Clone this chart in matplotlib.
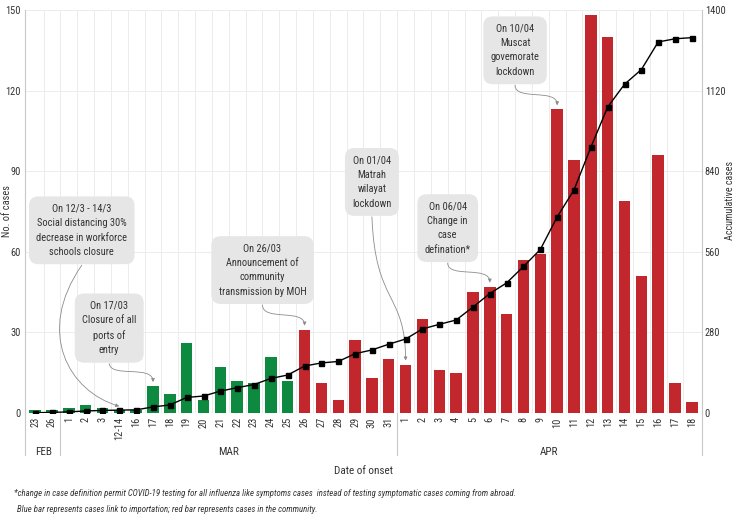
import numpy as np
import matplotlib.pyplot as plt
from matplotlib.path import Path
from matplotlib.patches import FancyArrowPatch
import matplotlib.transforms as mtrans
from matplotlib import font_manager as fm

# the reference uses a condensed face; take one if it is installed
fonts = fm.fontManager.ttflist
names = {f.name for f in fonts}
family, condensed = None, False
for cand in ['Liberation Sans Narrow', 'Roboto Condensed', 'Noto Sans Condensed',
             'Open Sans Condensed', 'DejaVu Sans Condensed']:
    if cand in names:
        family, condensed = cand, True
        break
if family is None:
    for f in fonts:
        if f.name in ('DejaVu Sans', 'Noto Sans', 'Open Sans', 'Roboto') and \
                f.stretch in ('condensed', 'semi-condensed', 'extra-condensed'):
            family, condensed = f.name, True
            plt.rcParams['font.stretch'] = f.stretch
            break
if family is None:
    family = 'Roboto' if 'Roboto' in names else 'DejaVu Sans'
plt.rcParams['font.family'] = [family, 'DejaVu Sans']

fs = 7.5 if condensed else 6.6     # box / tick text
fs_note = 6.3 if condensed else 5.9

# date of onset labels (Feb 23 .. Apr 18)
dates = ['23', '26',
         '1', '2', '3', '12-14', '16', '17', '18', '19', '20', '21', '22', '23',
         '24', '25', '26', '27', '28', '29', '30', '31',
         '1', '2', '3', '4', '5', '6', '7', '8', '9', '10', '11', '12', '13',
         '14', '15', '16', '17', '18']
months = ['FEB', 'MAR', 'APR']
month_first = [0, 2, 22]
month_last = [1, 21, 39]

daily_cases = [1, 1, 2, 3, 2, 1, 1, 10, 7, 26, 5, 17, 12, 11, 21, 12,
               31, 11, 5, 27, 13, 20, 18, 35, 16, 15, 45, 47, 37, 57, 59,
               113, 94, 148, 140, 79, 51, 96, 11, 4]
cumulative_cases = [1, 2, 4, 7, 9, 10, 11, 21, 28, 54, 59, 76, 88, 99, 120,
                    132, 163, 174, 179, 206, 219, 239, 257, 292, 308, 323,
                    368, 415, 452, 509, 568, 681, 775, 923, 1063, 1142, 1193,
                    1289, 1300, 1304]
n_imported = 16  # bars before 26/03 are importation linked

green = '#0e8a40'
red = '#c1272d'
txt = '#333333'
grid_c = '#ececec'
line_c = '#c8c8c8'

# annotation text, box centre, ctrl1, ctrl2, arrow end (data units)
notes = [
    ("On 12/3 - 14/3\nSocial distancing 30%\ndecrease in workforce\nschools closure",
     (2.1, 68), [(0.0, 30), (2.0, 8), (5, 2.5)]),
    ("On 17/03\nClosure of all\nports of\nentry",
     (4.4, 31.6), [(4.5, 13), (7, 18), (7, 11.5)]),
    ("On 26/03\nAnnouncement of\ncommunity\ntransmission by MOH",
     (13.5, 53.2), [(13.5, 34), (16, 39), (16, 32.5)]),
    ("On 01/04\nMatrah\nwilayat\nlockdown",
     (20.0, 86), [(20.2, 40), (22, 45), (22, 19.5)]),
    ("On 06/04\nChange in\ncase\ndefination*",
     (24.5, 68.8), [(24.5, 50), (27, 55), (27, 48.5)]),
    ("On 10/04\nMuscat\ngovemorate\nlockdown",
     (28.5, 135), [(28.5, 116), (31, 121), (31, 114.5)]),
]

fig = plt.figure(figsize=(7.35, 5.19), dpi=100)
ax = fig.add_axes([25/735, 1-413/519, (702-25)/735, (413-10)/519])

x = np.arange(len(dates))
colors = [green if i < n_imported else red for i in range(len(dates))]

ax.set_xlim(-0.6, len(dates) - 0.4)
ax.set_ylim(0, 150)
ax.set_yticks([0, 30, 60, 90, 120, 150])
ax.yaxis.grid(True, color=grid_c, lw=0.7, zorder=0)
for b in np.arange(0.5, len(dates) - 1, 1.0):
    ax.axvline(b, color=grid_c, lw=0.7, zorder=0)
ax.axhline(0, color=line_c, lw=0.8, zorder=1)
ax.set_axisbelow(True)

ax.bar(x, daily_cases, width=0.68, color=colors, zorder=2)

ax.set_xticks(x)
ax.set_xticklabels(dates, rotation=90, fontsize=fs, color=txt)
ax.tick_params(axis='both', length=0, labelsize=fs, labelcolor=txt)
ax.tick_params(axis='x', pad=3)
ax.tick_params(axis='y', pad=3)
for s in ['top', 'bottom']:
    ax.spines[s].set_visible(False)
ax.spines['left'].set_color(line_c)
ax.spines['right'].set_color(line_c)

# month group separators and labels
blend = mtrans.blended_transform_factory(ax.transData, ax.transAxes)
for b in [-0.6, 1.5, 21.5, len(dates) - 0.4]:
    ax.plot([b, b], [0, -0.104], transform=blend, color=line_c, lw=0.8,
            clip_on=False)
for m, a, b in zip(months, month_first, month_last):
    ax.text((a + b) / 2, -0.097, m, transform=blend, ha='center', va='center',
            fontsize=fs + 0.5, color=txt)

ax2 = ax.twinx()
ax2.set_ylim(0, 1400)
ax2.set_yticks([0, 280, 560, 840, 1120, 1400])
ax2.tick_params(axis='y', length=0, labelsize=fs, labelcolor=txt, pad=2)
for s in ax2.spines.values():
    s.set_visible(False)
ax2.plot(x, cumulative_cases, color='black', lw=1, marker='s', ms=3.6, zorder=5)

# call-out boxes
boxes = []
for text, (bx, by), pts in notes:
    t = ax.text(bx, by, text, ha='center', va='center', fontsize=fs,
                color=txt, linespacing=1.55, zorder=6,
                bbox=dict(boxstyle='round,pad=0.7,rounding_size=0.9',
                          fc='#e6e6e6', ec='none'))
    boxes.append(t)

fig.canvas.draw()
inv = ax.transData.inverted()
# keep first box clear of the left tick labels
bb = boxes[0].get_bbox_patch().get_window_extent()
if bb.x0 < 29:
    bx, by = boxes[0].get_position()
    px, py = ax.transData.transform((bx, by))
    boxes[0].set_position(inv.transform((px + 29 - bb.x0, py)))
    fig.canvas.draw()

# curved arrows from the bottom of each box
for t, (text, _, pts) in zip(boxes, notes):
    bb = t.get_bbox_patch().get_window_extent()
    start = inv.transform(((bb.x0 + bb.x1) / 2, bb.y0 - 1))
    path = Path([tuple(start)] + pts,
                [Path.MOVETO, Path.CURVE4, Path.CURVE4, Path.CURVE4])
    ax.add_patch(FancyArrowPatch(path=path, arrowstyle='-|>', mutation_scale=5,
                                 color='#8c8c8c', lw=0.6, zorder=6))

fig.text(7/735, 1-211/519, 'No. of cases', rotation=90, ha='center',
         va='center', fontsize=fs, color=txt)
fig.text(730/735, 1-200/519, 'Accumulative cases', rotation=90, ha='center',
         va='center', fontsize=fs - 0.3, color=txt)
fig.text(363/735, 1-471/519, 'Date of onset', ha='center', va='center',
         fontsize=fs + 0.5, color=txt)
fig.text(14/735, 1-494/519,
         '*change in case definition permit COVID-19 testing for all influenza '
         'like symptoms cases  instead of testing symptomatic cases coming from abroad.',
         ha='left', va='center', fontsize=fs_note, style='italic', color=txt)
fig.text(17/735, 1-510/519,
         'Blue bar represents cases link to importation; red bar represents '
         'cases in the community.',
         ha='left', va='center', fontsize=fs_note, style='italic', color=txt)

fig.savefig('out.png', dpi=100)
